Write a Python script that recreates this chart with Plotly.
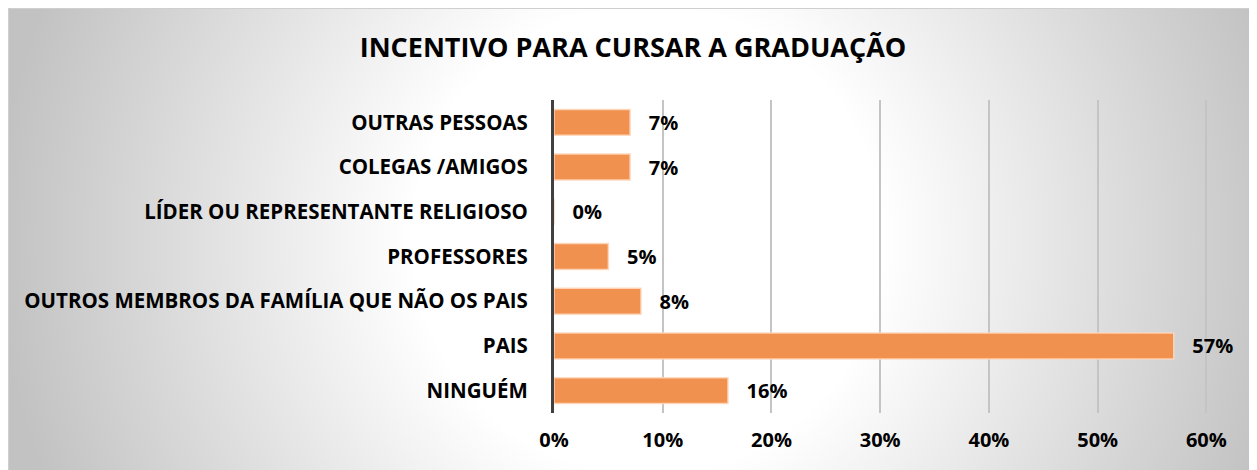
import base64

import plotly.graph_objects as go

categories = [
    "OUTRAS PESSOAS",
    "COLEGAS /AMIGOS",
    "LÍDER OU REPRESENTANTE RELIGIOSO",
    "PROFESSORES",
    "OUTROS MEMBROS DA FAMÍLIA QUE NÃO OS PAIS",
    "PAIS",
    "NINGUÉM",
]
shares = [0.07, 0.07, 0.00, 0.05, 0.08, 0.57, 0.16]
x_ticks = [0, 0.1, 0.2, 0.3, 0.4, 0.5, 0.6]

W, H = 1257, 470
# page body adds ~8px, so the plot box is shifted to compensate
L, R, T, B = 546, 57, 92, 65
FONT = "Open Sans, Liberation Sans, sans-serif"

# radial grey-to-white backdrop, like the office chart style
svg = (
    f'<svg xmlns="http://www.w3.org/2000/svg" width="{W}" height="{H}" viewBox="0 0 {W} {H}">'
    '<defs><radialGradient id="g" gradientUnits="userSpaceOnUse" cx="640" cy="232" r="650">'
    '<stop offset="0" stop-color="#ffffff"/><stop offset="0.36" stop-color="#ffffff"/>'
    '<stop offset="1" stop-color="#c2c2c2"/></radialGradient></defs>'
    f'<rect x="0.5" y="0.5" width="{W + 10}" height="{H + 10}" fill="url(#g)" stroke="#cfcfcf"/>'
    "</svg>"
)
bg_uri = "data:image/svg+xml;base64," + base64.b64encode(svg.encode()).decode()

pw, ph = W - L - R, H - T - B

fig = go.Figure()
fig.add_trace(
    go.Bar(
        x=shares,
        y=categories,
        orientation="h",
        marker={"color": "#F0914F", "line": {"color": "rgba(255,214,186,0.9)", "width": 1.5}},
        texttemplate="   %{x:.0%}",
        textposition="outside",
        textfont={"family": FONT, "size": 20, "color": "#000000", "weight": "bold"},
        cliponaxis=False,
        constraintext="none",
        hovertemplate="%{y}: %{x:.0%}<extra></extra>",
    )
)

fig.update_layout(
    width=W,
    height=H,
    paper_bgcolor="#FFFFFF",
    plot_bgcolor="rgba(0,0,0,0)",
    margin={"l": L, "r": R, "t": T, "b": B, "autoexpand": False},
    bargap=0.42,
    showlegend=False,
    font={"family": FONT, "color": "#000000"},
    title={
        "text": "<b>INCENTIVO PARA CURSAR A GRADUAÇÃO</b>",
        "x": 625 / W,
        "xanchor": "center",
        "y": 1 - 40 / H,
        "yanchor": "middle",
        "font": {"family": FONT, "size": 27, "color": "#000000"},
    },
    images=[
        {
            "source": bg_uri,
            "xref": "paper",
            "yref": "paper",
            "x": -L / pw,
            "y": (H - B) / ph,
            "sizex": W / pw,
            "sizey": H / ph,
            "xanchor": "left",
            "yanchor": "top",
            "sizing": "stretch",
            "layer": "below",
        }
    ],
)

fig.update_xaxes(
    range=[0, 0.6015],
    tickvals=x_ticks,
    tickformat=".0%",
    showgrid=True,
    gridcolor="#C4C4C4",
    gridwidth=1.5,
    zeroline=False,
    ticklabelstandoff=13,
    tickfont={"family": FONT, "size": 20, "color": "#000000", "weight": "bold"},
)
fig.update_yaxes(
    autorange="reversed",
    showgrid=False,
    showline=True,
    linecolor="#404040",
    linewidth=3,
    ticklabelstandoff=19,
    tickfont={"family": FONT, "size": 20.5, "color": "#000000", "weight": "bold"},
)

fig.write_html("out.html")
